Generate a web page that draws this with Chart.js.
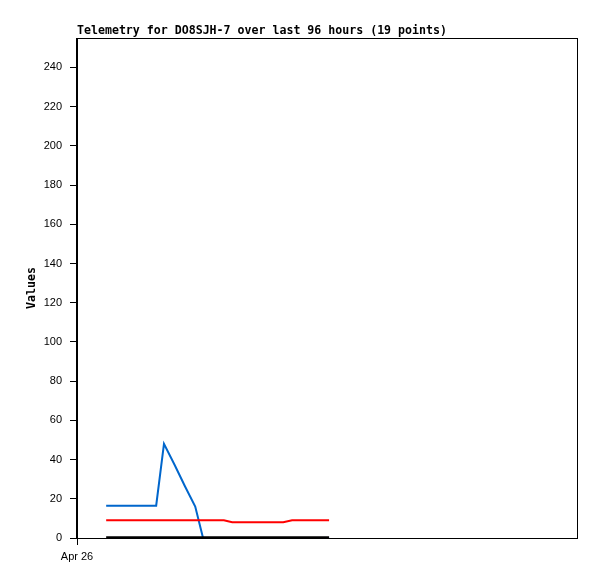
<!DOCTYPE html>
<html lang="en">
<head>
  <meta charset="UTF-8">
  <script src="https://cdn.jsdelivr.net/npm/chart.js"></script>
  <style>
    body, html {
      margin: 0;
      padding: 0;
      background: #fff;
    }
    #wrap {
      width: 597px;
      height: 579px;
    }
  </style>
</head>
<body>
  <div id="wrap"><canvas id="telemetry-chart"></canvas></div>
  <script>
    // hours since Apr 26 00:00
    const hours = [5.6, 7.9, 10.4, 12.7, 15.2, 16.7, 18.8, 20.7, 22.7, 24.2, 28.2, 29.8, 32.3, 34.8, 37.1, 39.6, 41.3, 44.7, 48.4];
    const blueValues = [16.5, 16.5, 16.5, 16.5, 16.5, 48, 37, 26.5, 16, 0, 0, 0, 0, 0, 0, 0, 0, 0, 0];
    const redValues = [9, 9, 9, 9, 9, 9, 9, 9, 9, 9, 9, 8, 8, 8, 8, 8, 9, 9, 9];
    const blackValues = [0.4, 0.4, 0.4, 0.4, 0.4, 0.4, 0.4, 0.4, 0.4, 0.4, 0.4, 0.4, 0.4, 0.4, 0.4, 0.4, 0.4, 0.4, 0.4];
    const yTicks = [0, 20, 40, 60, 80, 100, 120, 140, 160, 180, 200, 220, 240];
    const xTicks = [0];
    const xTickLabels = ['Apr 26'];
    const titleText = 'Telemetry for DO8SJH-7 over last 96 hours (19 points)';
    const yTitle = 'Values';

    const toPoints = vals => vals.map((v, i) => ({ x: hours[i], y: v }));

    const frame = {
      id: 'frame',
      afterDraw(chart) {
        const { ctx, chartArea } = chart;
        ctx.save();
        ctx.strokeStyle = '#000';
        ctx.lineWidth = 1;
        ctx.strokeRect(chartArea.left - 0.5, chartArea.top + 0.5, chartArea.right - chartArea.left + 1, chartArea.bottom - chartArea.top);
        ctx.fillStyle = '#000';
        ctx.font = 'bold 11.6px "DejaVu Sans Mono"';
        ctx.textBaseline = 'middle';
        ctx.textAlign = 'left';
        ctx.fillText(titleText, 77, 31);
        ctx.translate(32, 288);
        ctx.rotate(-Math.PI / 2);
        ctx.textAlign = 'center';
        ctx.fillText(yTitle, 0, 0);
        ctx.restore();
      }
    };

    new Chart(document.getElementById('telemetry-chart'), {
      type: 'line',
      data: {
        datasets: [
          { data: toPoints(blackValues), borderColor: '#000000', borderWidth: 2, order: 0 },
          { data: toPoints(redValues), borderColor: '#ff0000', borderWidth: 2, order: 1 },
          { data: toPoints(blueValues), borderColor: '#0066cc', borderWidth: 2, order: 2 }
        ]
      },
      options: {
        responsive: true,
        maintainAspectRatio: false,
        animation: false,
        layout: { padding: { top: 38, right: 20, left: 0, bottom: 0 } },
        elements: { point: { radius: 0 }, line: { tension: 0 } },
        plugins: { legend: { display: false }, tooltip: { enabled: false } },
        scales: {
          x: {
            type: 'linear',
            min: 0,
            max: 96,
            afterBuildTicks: s => { s.ticks = xTicks.map(v => ({ value: v })); },
            afterFit: s => { s.height = 41; },
            ticks: {
              color: '#000',
              font: { family: 'Liberation Sans', size: 11 },
              maxRotation: 0,
              padding: 5,
              callback: (v, i) => xTickLabels[i]
            },
            grid: { display: true, drawOnChartArea: false, drawTicks: true, tickLength: 7, color: '#000' },
            border: { display: true, color: '#000' }
          },
          y: {
            min: 0,
            max: 255,
            afterBuildTicks: s => { s.ticks = yTicks.map(v => ({ value: v })); },
            afterFit: s => { s.width = 77; },
            ticks: {
              color: '#000',
              font: { family: 'Liberation Sans', size: 11 },
              padding: 8
            },
            grid: { display: true, drawOnChartArea: false, drawTicks: true, tickLength: 7, color: '#000' },
            border: { display: true, color: '#000' }
          }
        }
      },
      plugins: [frame]
    });
  </script>
</body>
</html>
